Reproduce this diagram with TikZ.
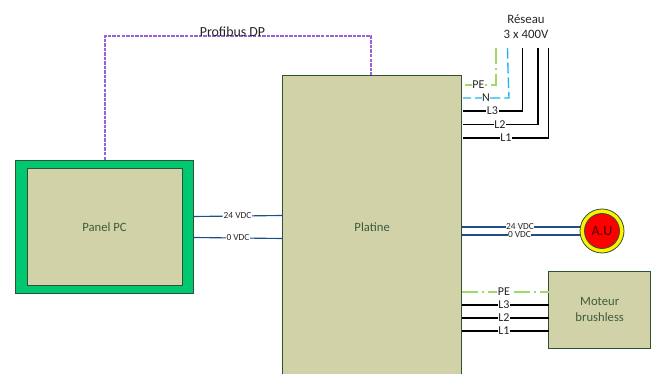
\documentclass[tikz,border=0pt]{standalone}
\usepackage{fontspec}
\setmainfont{Carlito}
\definecolor{boxfill}{HTML}{D2D2A9}
\definecolor{boxedge}{HTML}{2F5233}
\definecolor{boxtext}{HTML}{3C5C3E}
\definecolor{panelgreen}{HTML}{00C871}
\definecolor{busblue}{HTML}{1F4E8C}
\definecolor{pegreen}{HTML}{A2D868}
\definecolor{ncyan}{HTML}{1FB4EE}
\definecolor{profi}{HTML}{9A60D8}
\tikzset{
  x=0.75pt,y=-0.75pt,
  boxn/.style={draw=boxedge,fill=boxfill,line width=0.75pt,text=boxtext,font=\fontsize{9.5}{11.5}\selectfont,align=center,inner sep=0pt,outer sep=0pt},
  wire/.style={black,line width=0.85pt},
  dcw/.style={busblue,line width=0.85pt},
  pew/.style={pegreen,line width=1pt,dash pattern=on 12pt off 3pt on 1.5pt off 3pt},
  nw/.style={ncyan,line width=1pt,dash pattern=on 8pt off 3pt},
  buswire/.style={profi,line width=0.8pt,dash pattern=on 2.6pt off 0.8pt},
  lab/.style={fill=white,inner sep=0.4pt,text=black!85,font=\fontsize{9}{10}\selectfont},
  dclab/.style={fill=white,inner sep=0.3pt,text=black!85,font=\fontsize{7}{7}\selectfont},
  txt/.style={inner sep=0pt,text=black!85,font=\fontsize{9.6}{11.3}\selectfont,align=center}
}
\begin{document}
\begin{tikzpicture}
\useasboundingbox (0,0) rectangle (657,374);
\clip (0,0) rectangle (657,374);
% boxes
\node[boxn,fill=panelgreen,minimum width=133.5pt,minimum height=99.75pt] (outer) at (104.5,227) {};
\node[boxn,minimum width=116.25pt,minimum height=87.4pt] (panel) at (104.5,226.8) {Panel PC};
\node[boxn,minimum width=134.6pt,minimum height=227.4pt] (platine) at (372.2,227.4) {Platine};
\node[boxn,minimum width=76.9pt,minimum height=57.75pt] (moteur) at (599.7,309.5) {Moteur\\brushless};
\node[circle,draw=boxedge,fill=yellow,line width=0.6pt,minimum size=33pt,inner sep=0pt,outer sep=0pt] (auo) at (602,231) {};
\node[circle,draw=boxedge,fill=red,line width=0.6pt,minimum size=26.25pt,inner sep=0pt,outer sep=0pt,text=black!70!red,font=\fontsize{10.5}{11}\selectfont] (au) at (602,231) {A.U};
% free ends
\coordinate (pL1) at (463,138);  \coordinate (cL1) at (548.5,138); \coordinate (tL1) at (548.5,48);
\coordinate (pL2) at (463,124.5);\coordinate (cL2) at (538,124.5); \coordinate (tL2) at (538,48);
\coordinate (pL3) at (463,111);  \coordinate (cL3) at (522.5,111); \coordinate (tL3) at (522.5,48);
\coordinate (pN) at (463,98);    \coordinate (cN) at (509,98);     \coordinate (tN) at (507.5,48);
\coordinate (pPE) at (463,85);   \coordinate (cPE) at (496,85);    \coordinate (tPE) at (496,48);
% Profibus
\coordinate (b1) at (105,36); \coordinate (b2) at (371,36);
\draw[buswire] (105,160) -- (b1) -- (b2) -- (371,75);
\node[txt,font=\fontsize{10.4}{12}\selectfont] (profibus) at (232.5,32) {Profibus DP};
% mains
\node[txt] (reseau) at (526,26.5) {Réseau\\3 x 400V};
\draw[pew] (tPE) -- (cPE) -- (pPE);
\draw[nw] (tN) -- (508,70) -- (cN) -- (pN);
\draw[wire] (tL3) -- (cL3) -- (pL3);
\draw[wire] (tL2) -- (cL2) -- (pL2);
\draw[wire] (tL1) -- (cL1) -- (pL1);
\node[lab] (lPE) at (478.5,85) {PE};
\node[lab] (lN) at (486,98) {N};
\node[lab] (lL3) at (492.5,111) {L3};
\node[lab] (lL2) at (500,124.5) {L2};
\node[lab] (lL1) at (506,138) {L1};
% DC panel
\draw[dcw] (193.5,216.5) -- (282.5,215.5);
\draw[dcw] (193.5,237.5) -- (282.5,238.5);
\node[dclab] (d24a) at (237.5,216) {24 VDC};
\node[dclab] (d0a) at (238,238) {0 VDC};
% DC AU
\draw[dcw] (462,227) -- (580.5,227);
\draw[dcw] (462,235) -- (580.5,235);
\node[dclab] (d24b) at (520,227) {24 VDC};
\node[dclab] (d0b) at (519.5,235) {0 VDC};
% motor
\draw[pew] (462,292) -- (548.5,292);
\draw[wire] (462,305) -- (548.5,305);
\draw[wire] (462,318) -- (548.5,318);
\draw[wire] (462,331) -- (548.5,331);
\node[lab] (mPE) at (504,291.5) {PE};
\node[lab] (mL3) at (504,305) {L3};
\node[lab] (mL2) at (504,318) {L2};
\node[lab] (mL1) at (504,331) {L1};
\end{tikzpicture}
\end{document}
